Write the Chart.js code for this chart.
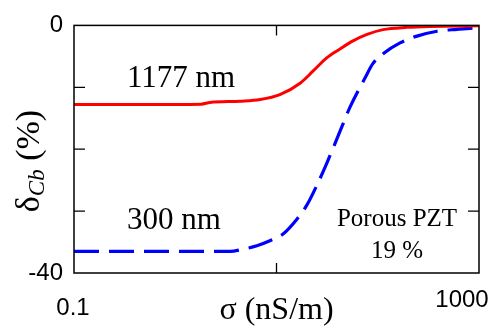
<!DOCTYPE html>
<html><head><meta charset="utf-8">
<script src="https://cdn.jsdelivr.net/npm/chart.js@4/dist/chart.umd.min.js"></script>
<style>html,body{margin:0;padding:0;background:#fff}canvas{display:block}</style>
</head><body>
<canvas id="c" width="495" height="326"></canvas>
<script>
// σ (nS/m) and δCb (%)
const sigmaRed = [0.1, 1, 1.8, 2.2, 4.4, 6.9, 10.8, 17.1, 22.9, 31.5, 42.4, 57, 78.4, 113, 195, 328, 1000];
const deltaRed = [-12.76, -12.76, -12.72, -12.45, -12.24, -11.97, -11.18, -9.34, -7.4, -5.2, -3.8, -2.5, -1.46, -0.68, -0.31, -0.16, -0.05];
const sigmaBlue = [0.1, 1, 3.5, 4.5, 6.4, 8.6, 11.6, 15.9, 20, 25.1, 31.5, 37.8, 45.4, 53.2, 74.8, 89.8, 113, 166, 244, 385, 607, 873, 1000];
const deltaBlue = [-36.5, -36.5, -36.5, -36.2, -35.6, -34.8, -33.7, -31.3, -29, -25.8, -22.2, -19.1, -15.9, -13.2, -8.5, -6.14, -4.57, -2.83, -1.73, -0.94, -0.63, -0.43, -0.4];
const xTickLabels = [0.1, 1000];
const yTickLabels = [0, -40];
const xTickMarks = [10];
const yTickMarks = [-10, -20, -30];
const seriesNames = ['1177 nm', '300 nm'];

const toPts = (xs, ys) => xs.map((x, i) => ({x: x, y: ys[i]}));

const frame = {
  id: 'frame',
  afterDatasetsDraw(chart) {
    const ctx = chart.ctx, a = chart.chartArea;
    const xs = chart.scales.x, ys = chart.scales.y;
    ctx.save();
    ctx.strokeStyle = '#000';
    ctx.lineWidth = 1.5;
    ctx.strokeRect(a.left, a.top, a.right - a.left, a.bottom - a.top);
    ctx.lineWidth = 1.3;
    ctx.beginPath();
    xTickMarks.forEach(v => {
      const px = xs.getPixelForValue(v);
      ctx.moveTo(px, a.bottom); ctx.lineTo(px, a.bottom - 10);
      ctx.moveTo(px, a.top); ctx.lineTo(px, a.top + 10);
    });
    yTickMarks.forEach(v => {
      const py = ys.getPixelForValue(v);
      ctx.moveTo(a.left, py); ctx.lineTo(a.left + 11, py);
      ctx.moveTo(a.right, py); ctx.lineTo(a.right - 11, py);
    });
    ctx.stroke();
    ctx.fillStyle = '#000';
    // x tick labels
    ctx.font = '24px "Liberation Sans", Arial, sans-serif';
    ctx.textBaseline = 'middle';
    ctx.textAlign = 'center';
    ctx.fillText(String(xTickLabels[0]), xs.getPixelForValue(xTickLabels[0]) - 1, a.bottom + 35);
    ctx.fillText(String(xTickLabels[1]), xs.getPixelForValue(xTickLabels[1]) - 17, a.bottom + 27);
    // x title
    ctx.font = '32px "Liberation Serif", "Times New Roman", serif';
    ctx.fillText('σ (nS/m)', (a.left + a.right) / 2, a.bottom + 38);
    // annotations (data coordinates)
    ctx.font = '31px "Liberation Serif", "Times New Roman", serif';
    ctx.fillText(seriesNames[0], xs.getPixelForValue(1.14), ys.getPixelForValue(-8.7));
    ctx.fillText(seriesNames[1], xs.getPixelForValue(0.97), ys.getPixelForValue(-31.5));
    ctx.font = '25px "Liberation Serif", "Times New Roman", serif';
    ctx.fillText('Porous PZT', xs.getPixelForValue(155), ys.getPixelForValue(-31.3));
    ctx.fillText('19 %', xs.getPixelForValue(155), ys.getPixelForValue(-36.5));
    // y title: δCb (%)
    const big = '34px "Liberation Serif", "Times New Roman", serif';
    const sub = 'italic 23px "Liberation Serif", "Times New Roman", serif';
    ctx.font = big; const w1 = ctx.measureText('δ').width; const w3 = ctx.measureText(' (%)').width;
    ctx.font = sub; const w2 = ctx.measureText('Cb').width;
    const tot = w1 + w2 + w3;
    ctx.translate(28, 161);
    ctx.rotate(-Math.PI / 2);
    ctx.textAlign = 'left';
    ctx.textBaseline = 'alphabetic';
    let x0 = -tot / 2;
    ctx.font = big; ctx.fillText('δ', x0, 11);
    ctx.font = sub; ctx.fillText('Cb', x0 + w1, 16);
    ctx.font = big; ctx.fillText(' (%)', x0 + w1 + w2, 11);
    ctx.restore();
  }
};

new Chart(document.getElementById('c'), {
  type: 'line',
  data: {
    datasets: [
      {label: seriesNames[0], data: toPts(sigmaRed, deltaRed), borderColor: '#ff0000', borderWidth: 3, pointRadius: 0, fill: false, cubicInterpolationMode: 'monotone'},
      {label: seriesNames[1], data: toPts(sigmaBlue, deltaBlue), borderColor: '#0000ff', borderWidth: 3.2, borderDash: [25, 10], pointRadius: 0, fill: false, cubicInterpolationMode: 'monotone'}
    ]
  },
  options: {
    responsive: false,
    animation: false,
    devicePixelRatio: 1,
    layout: {padding: {top: 19, right: 16, bottom: 0, left: 0}},
    plugins: {legend: {display: false}, tooltip: {enabled: false}},
    scales: {
      x: {
        type: 'logarithmic', min: 0.1, max: 1000, position: 'bottom',
        ticks: {display: false},
        grid: {display: false, drawTicks: false},
        border: {display: false},
        afterFit(s) { s.height = 53; }
      },
      y: {
        min: -40, max: 0,
        ticks: {
          stepSize: 10, padding: 11, color: '#000',
          font: {family: '"Liberation Sans", Arial, sans-serif', size: 24},
          callback: v => yTickLabels.includes(v) ? String(v) : ''
        },
        grid: {display: false, drawTicks: false},
        border: {display: false},
        afterFit(s) { s.width = 74; }
      }
    }
  },
  plugins: [frame]
});
</script>
</body></html>
